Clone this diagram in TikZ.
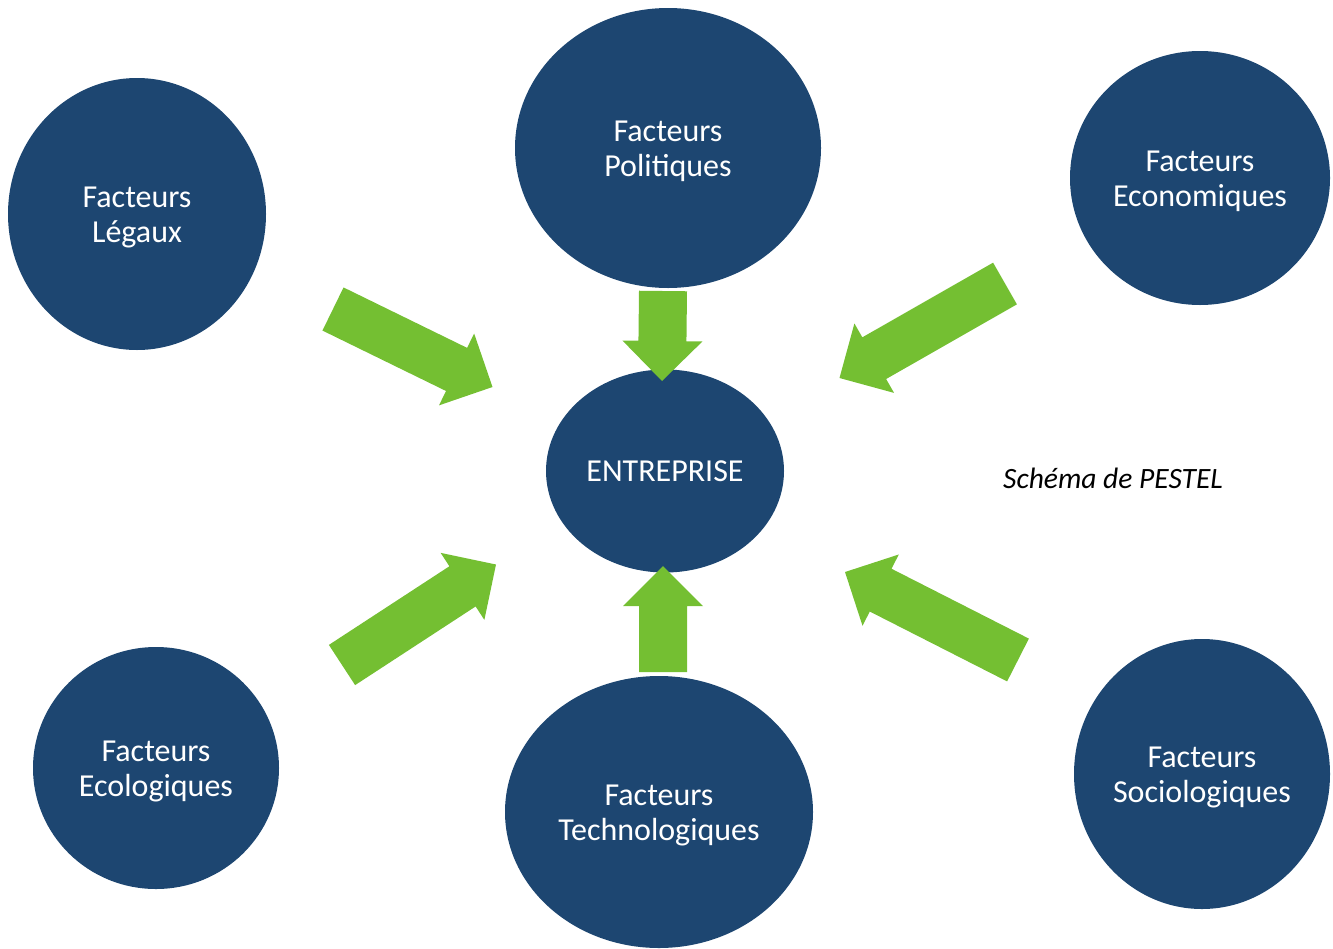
\documentclass[tikz,border=0pt]{standalone}
\usepackage{fontspec}
\setmainfont{Carlito}
\usetikzlibrary{shapes.geometric,calc}
\definecolor{pblue}{HTML}{1D4671}
\definecolor{pgreen}{HTML}{74BF32}
\tikzset{
  factor/.style={ellipse, fill=pblue, inner sep=0pt},
  factortext/.style={text=white, align=center, inner sep=0pt, yshift=-3pt,
    font=\fontsize{32}{35}\selectfont},
  arrowfill/.style={fill=pgreen, draw=none}
}
\newcommand\pestelarrow[3]{%
  \coordinate (#1n) at ($(#3)!40pt!(#2)$);
  \fill[arrowfill] ($(#2)!24pt!90:(#3)$) -- ($(#1n)!24pt!90:(#3)$) -- ($(#1n)!40pt!90:(#3)$)
    -- (#3) -- ($(#1n)!40pt!-90:(#3)$) -- ($(#1n)!24pt!-90:(#3)$) -- ($(#2)!24pt!-90:(#3)$) -- cycle;
}
\begin{document}
\begin{tikzpicture}[x=1pt,y=-1pt]
\useasboundingbox (0,0) rectangle (1333,948);
\node[factor, minimum width=258pt, minimum height=272pt] (leg) at (137,214) {};
\node[factortext] (legT) at (leg.center) {Facteurs\\Légaux};
\node[factor, minimum width=306pt, minimum height=280pt] (pol) at (668,148) {};
\node[factortext] (polT) at (pol.center) {Facteurs\\Politiques};
\node[factor, minimum width=260pt, minimum height=254pt] (eco) at (1200,178) {};
\node[factortext] (ecoT) at (eco.center) {Facteurs\\Economiques};
\node[factor, minimum width=238pt, minimum height=203pt] (ent) at (665,471) {};
\node[factortext, yshift=3pt] (entT) at (ent.center) {ENTREPRISE};
\node[factor, minimum width=246pt, minimum height=242pt] (ecl) at (156,768) {};
\node[factortext] (eclT) at (ecl.center) {Facteurs\\Ecologiques};
\node[factor, minimum width=308pt, minimum height=272pt] (tec) at (659,812) {};
\node[factortext] (tecT) at (tec.center) {Facteurs\\Technologiques};
\node[factor, minimum width=256pt, minimum height=270pt] (soc) at (1202,774) {};
\node[factortext] (socT) at (soc.center) {Facteurs\\Sociologiques};
\node[font=\fontsize{29.5}{32}\selectfont\itshape] (lbl) at (1113,478) {Schéma de PESTEL};
% arrows
\coordinate (Pt) at (663,291);  \coordinate (Ph) at (662,381);
\coordinate (Tt) at (663,672);  \coordinate (Th) at (663,566);
\coordinate (Lt) at (333,309);  \coordinate (Lh) at (492.5,387);
\coordinate (Et) at (1005,283.5); \coordinate (Eh) at (839.5,378);
\coordinate (Ct) at (342,665);  \coordinate (Ch) at (496,564.5);
\coordinate (St) at (1018,660); \coordinate (Sh) at (845,572);
\pestelarrow{P}{Pt}{Ph}
\pestelarrow{T}{Tt}{Th}
\pestelarrow{L}{Lt}{Lh}
\pestelarrow{E}{Et}{Eh}
\pestelarrow{C}{Ct}{Ch}
\pestelarrow{S}{St}{Sh}
\end{tikzpicture}
\end{document}
